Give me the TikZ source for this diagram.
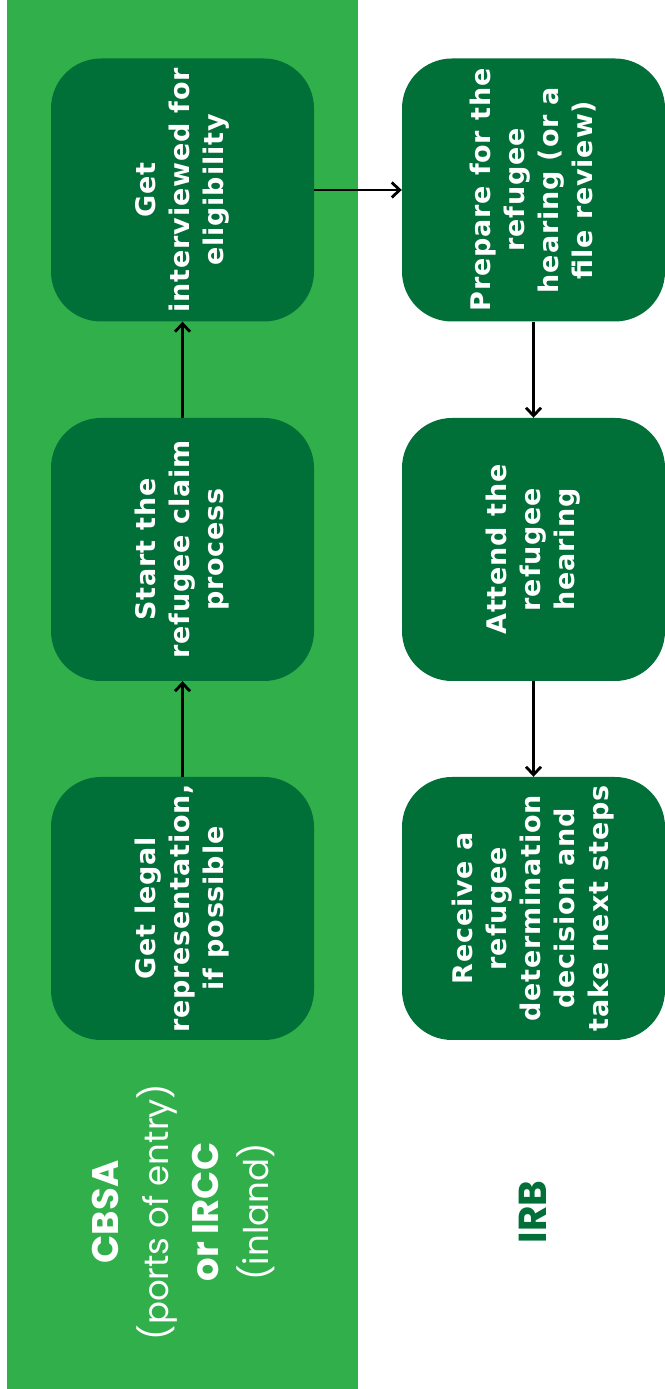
\documentclass[tikz,border=0pt]{standalone}
\usepackage{fontspec}
\setmainfont{DejaVu Sans}
\newfontfamily\boxfont[LetterSpace=3]{DejaVu Sans}
\newfontfamily\headfont{Poppins}
\usetikzlibrary{arrows.meta}
\definecolor{lightgrn}{RGB}{48,175,75}
\definecolor{darkgrn}{RGB}{0,111,56}
\tikzset{
  stepbox/.style={fill=darkgrn,rounded corners=50pt,minimum width=263pt,minimum height=263pt,
    inner sep=0pt,rotate=90,text=white,align=center,font=\boxfont\bfseries\fontsize{27}{34}\selectfont},
  head/.style={rotate=90,align=center,font=\headfont\fontsize{34}{50}\selectfont},
  flow/.style={-{Straight Barb[length=8pt,width=15pt]},line width=2.8pt}
}
\begin{document}
\begin{tikzpicture}[x=1pt,y=1pt]
\useasboundingbox (0,0) rectangle (664,1389);
\fill[lightgrn] (7,0) rectangle (358,1389);
% CBSA / IRCC side
\node[stepbox](intv) at(182.5,1199){Get\\interviewed for\\eligibility};
\node[stepbox](start) at(182.5,839.5){Start the\\refugee claim\\process};
\node[stepbox](legal) at(182.5,480.5){Get legal\\representation,\\if possible};
\node[head,text=white](cbsa) at(183,177){{\fontsize{37}{50}\selectfont\bfseries CBSA}\\(ports of entry)\\{\fontsize{37}{50}\selectfont\bfseries or IRCC}\\(inland)};
% IRB side
\node[stepbox](prep) at(533.5,1199){Prepare for the\\refugee\\hearing (or a\\file review)};
\node[stepbox](attend) at(533.5,839.5){Attend the\\refugee\\hearing};
\node[stepbox](recv) at(533.5,480.5){Receive a\\refugee\\determination\\decision and\\take next steps};
\node[head,text=darkgrn,font=\headfont\bfseries\fontsize{39}{50}\selectfont](irb) at(533,177){IRB};
\draw[flow](legal)--(start);
\draw[flow](start)--(intv);
\draw[flow](intv)--(prep);
\draw[flow](prep)--(attend);
\draw[flow](attend)--(recv);
\end{tikzpicture}
\end{document}
